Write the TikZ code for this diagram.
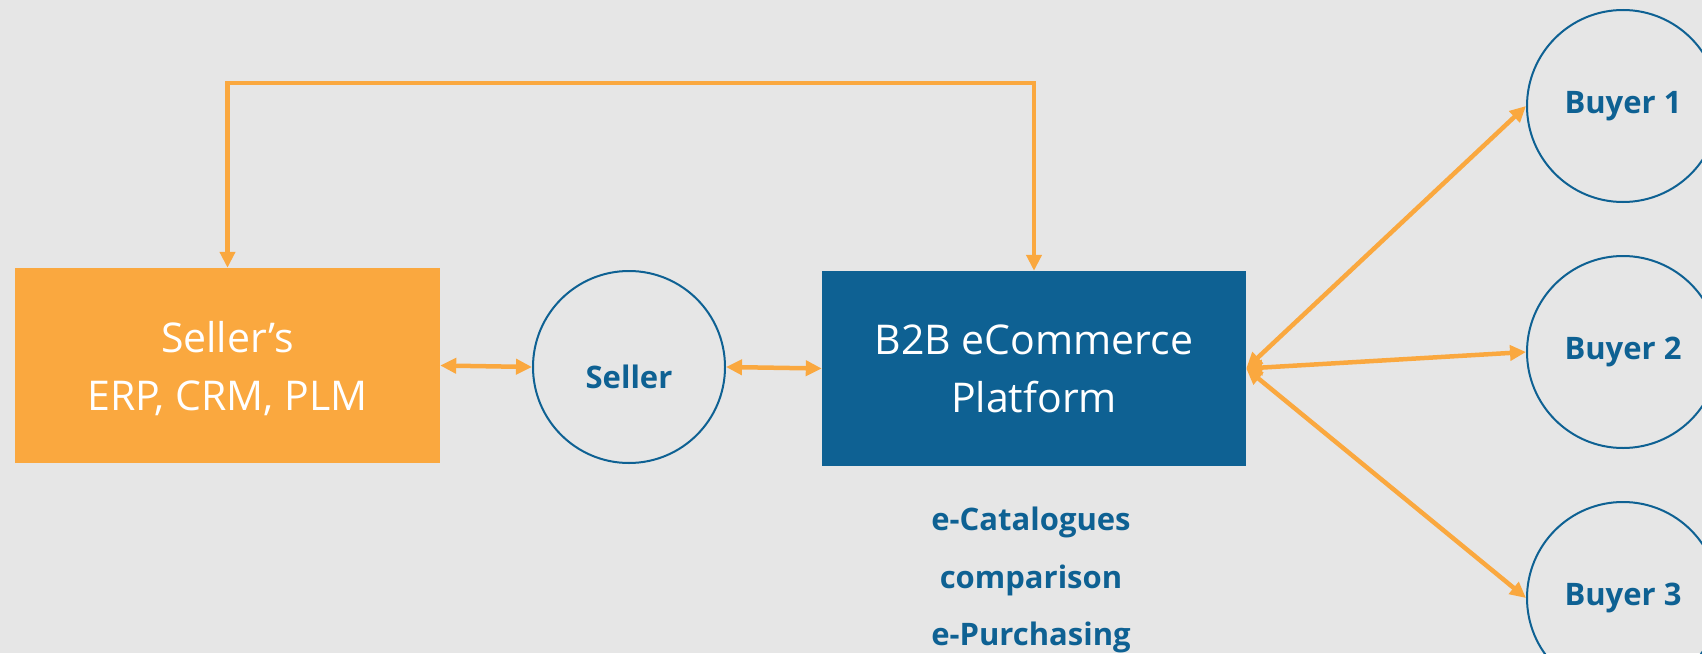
\documentclass[tikz,border=0pt]{standalone}
\usepackage{fontspec}
\setmainfont{Open Sans}
\usetikzlibrary{arrows.meta}
\definecolor{bg}{HTML}{E6E6E6}
\definecolor{org}{HTML}{FAA83F}
\definecolor{navy}{HTML}{0E6193}
\begin{document}
\begin{tikzpicture}[x=1pt,y=-1pt,
  conn/.style={draw=org, line width=4.5pt, {Triangle[length=16pt,width=15pt]}-{Triangle[length=16pt,width=15pt]}},
  box/.style={rectangle, inner sep=0pt, minimum width=425pt, minimum height=195pt, text=white, align=center, font=\fontsize{41}{58}\selectfont},
  ring/.style={circle, draw=navy, line width=2pt, minimum size=192pt, inner sep=0pt, text=navy, font=\fontsize{31}{36}\selectfont\bfseries},
  lbl/.style={text=navy, font=\fontsize{31}{36}\selectfont\bfseries, anchor=base, inner sep=0pt}]
\useasboundingbox (0,0) rectangle (1702,653);
\clip (0,0) rectangle (1702,653);
\fill[bg] (0,0) rectangle (1702,653);

\node[box, fill=org, text depth=0pt] (erp) at (227.5,365.5) {Seller’s\\ERP, CRM, PLM};
\node[ring, text height=42pt, text depth=0pt] (seller) at (629,367) {Seller};
\node[box, fill=navy, minimum width=424pt] (b2b) at (1034,368.5) {B2B eCommerce\\Platform};

\node[ring] (buyer1) at (1623,106) {Buyer 1};
\node[ring] (buyer2) at (1623,352) {Buyer 2};
\node[ring] (buyer3) at (1623,598) {Buyer 3};

\node[lbl] (f1) at (1031,530) {e-Catalogues};
\node[lbl] (f2) at (1031,588) {comparison};
\node[lbl] (f3) at (1031,645) {e-Purchasing};

\coordinate (top) at (630,83);
\draw[conn] (erp.north) |- (top) -| (b2b.north);
\draw[conn] (erp.east) -- (seller.west);
\draw[conn] (seller.east) -- (b2b.west);
\draw[conn] (b2b.east) -- (buyer1.west);
\draw[conn] (b2b.east) -- (buyer2.west);
\draw[conn] (b2b.east) -- (buyer3.west);
\end{tikzpicture}
\end{document}
